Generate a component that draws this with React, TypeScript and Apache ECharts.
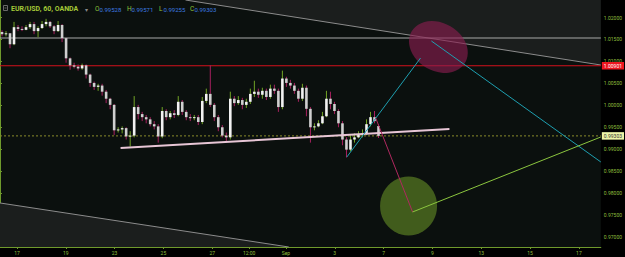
import React, { useEffect, useRef } from 'react';
import * as echarts from 'echarts';

// Hourly EUR/USD candles, [open, close, low, high]
const candles: number[][] = [
  [1.0167, 1.0162, 1.0157, 1.0171],
  [1.0162, 1.0164, 1.0157, 1.0169],
  [1.0164, 1.0139, 1.0130, 1.0164],
  [1.0139, 1.0178, 1.0137, 1.0190],
  [1.0178, 1.0174, 1.0169, 1.0183],
  [1.0174, 1.0172, 1.0169, 1.0180],
  [1.0172, 1.0178, 1.0171, 1.0183],
  [1.0178, 1.0185, 1.0174, 1.0190],
  [1.0185, 1.0169, 1.0162, 1.0190],
  [1.0169, 1.0176, 1.0155, 1.0180],
  [1.0176, 1.0185, 1.0174, 1.0192],
  [1.0185, 1.0190, 1.0180, 1.0197],
  [1.0190, 1.0180, 1.0176, 1.0192],
  [1.0180, 1.0169, 1.0162, 1.0183],
  [1.0169, 1.0183, 1.0167, 1.0192],
  [1.0183, 1.0153, 1.0144, 1.0185],
  [1.0153, 1.0107, 1.0097, 1.0153],
  [1.0107, 1.0091, 1.0081, 1.0109],
  [1.0091, 1.0088, 1.0084, 1.0097],
  [1.0088, 1.0084, 1.0079, 1.0093],
  [1.0084, 1.0091, 1.0081, 1.0095],
  [1.0091, 1.0070, 1.0061, 1.0093],
  [1.0070, 1.0051, 1.0042, 1.0072],
  [1.0051, 1.0042, 1.0035, 1.0054],
  [1.0042, 1.0045, 1.0033, 1.0049],
  [1.0045, 1.0031, 1.0022, 1.0049],
  [1.0031, 1.0015, 1.0005, 1.0035],
  [1.0015, 1.0001, 0.9991, 1.0017],
  [1.0001, 0.9943, 0.9932, 1.0003],
  [0.9943, 0.9945, 0.9938, 0.9950],
  [0.9945, 0.9948, 0.9936, 0.9952],
  [0.9948, 0.9929, 0.9922, 0.9950],
  [0.9929, 0.9931, 0.9906, 0.9941],
  [0.9931, 0.9996, 0.9927, 1.0021],
  [0.9996, 0.9980, 0.9968, 1.0001],
  [0.9980, 0.9973, 0.9964, 0.9985],
  [0.9973, 0.9968, 0.9959, 0.9978],
  [0.9968, 0.9957, 0.9952, 0.9973],
  [0.9957, 0.9952, 0.9945, 0.9964],
  [0.9952, 0.9929, 0.9915, 0.9957],
  [0.9929, 0.9987, 0.9925, 0.9996],
  [0.9987, 0.9973, 0.9966, 0.9991],
  [0.9973, 0.9982, 0.9968, 0.9987],
  [0.9982, 0.9978, 0.9971, 0.9989],
  [0.9978, 1.0008, 0.9975, 1.0021],
  [1.0008, 0.9985, 0.9978, 1.0012],
  [0.9985, 0.9973, 0.9966, 0.9989],
  [0.9973, 0.9971, 0.9964, 0.9980],
  [0.9971, 0.9973, 0.9966, 0.9978],
  [0.9973, 0.9962, 0.9955, 0.9978],
  [0.9962, 1.0010, 0.9957, 1.0019],
  [1.0010, 1.0026, 1.0005, 1.0038],
  [1.0026, 1.0001, 0.9996, 1.0091],
  [1.0001, 0.9973, 0.9964, 1.0005],
  [0.9973, 0.9950, 0.9941, 0.9978],
  [0.9950, 0.9931, 0.9927, 0.9955],
  [0.9931, 0.9927, 0.9918, 0.9938],
  [0.9927, 1.0015, 0.9922, 1.0031],
  [1.0015, 1.0005, 0.9998, 1.0021],
  [1.0005, 1.0012, 1.0001, 1.0021],
  [1.0012, 1.0001, 0.9991, 1.0017],
  [1.0001, 1.0008, 0.9994, 1.0015],
  [1.0008, 1.0026, 1.0003, 1.0038],
  [1.0026, 1.0031, 1.0019, 1.0056],
  [1.0031, 1.0024, 1.0017, 1.0038],
  [1.0024, 1.0033, 1.0015, 1.0040],
  [1.0033, 1.0019, 1.0012, 1.0038],
  [1.0019, 1.0038, 1.0015, 1.0047],
  [1.0038, 1.0033, 1.0026, 1.0047],
  [1.0033, 0.9996, 0.9985, 1.0038],
  [0.9996, 1.0061, 0.9991, 1.0079],
  [1.0061, 1.0051, 1.0042, 1.0065],
  [1.0051, 1.0045, 1.0038, 1.0058],
  [1.0045, 1.0033, 1.0026, 1.0051],
  [1.0033, 1.0015, 1.0008, 1.0038],
  [1.0015, 1.0040, 1.0010, 1.0049],
  [1.0040, 0.9992, 0.9975, 1.0045],
  [0.9992, 0.9950, 0.9915, 0.9996],
  [0.9950, 0.9952, 0.9943, 0.9959],
  [0.9952, 0.9959, 0.9950, 0.9966],
  [0.9959, 0.9975, 0.9957, 0.9985],
  [0.9975, 1.0015, 0.9973, 1.0033],
  [1.0015, 1.0003, 0.9991, 1.0031],
  [1.0003, 0.9987, 0.9980, 1.0008],
  [0.9987, 0.9959, 0.9950, 0.9991],
  [0.9959, 0.9922, 0.9909, 0.9964],
  [0.9922, 0.9899, 0.9881, 0.9927],
  [0.9899, 0.9922, 0.9895, 0.9932],
  [0.9922, 0.9927, 0.9915, 0.9936],
  [0.9927, 0.9934, 0.9925, 0.9941],
  [0.9934, 0.9936, 0.9927, 0.9945],
  [0.9936, 0.9957, 0.9932, 0.9968],
  [0.9957, 0.9973, 0.9952, 0.9985],
  [0.9973, 0.9964, 0.9959, 0.9987],
  [0.99528, 0.99303, 0.99255, 0.99571],
];

// time axis (in candle slots) and its labels
const xTickPos = [4.23, 16.42, 28.61, 40.8, 52.99, 62.19, 71.39, 83.58, 95.77, 107.96, 120.15, 132.34, 144.53];
const xTickLabels = ['17', '19', '23', '25', '27', '12:00', 'Sep', '3', '7', '9', '13', '15', '17'];
const xMax = 150;

// price axis
const yMin = 0.96772;
const yMax = 1.02399;
const yTicks = [0.97, 0.975, 0.98, 0.985, 0.99, 0.995, 1.0, 1.005, 1.01, 1.015, 1.02];

// drawings (in [slot, price])
const channelTop = [[46.3, 1.02399], [150, 1.00918]];
const channelBottom = [[0, 0.97775], [72.1, 0.96772]];
const supportLine = [[30.1, 0.99028], [112.2, 0.9946]];
const cyanUp = [[86.6, 0.98823], [105.0, 1.01078]];
const cyanDown = [[107.7, 1.01465], [150, 0.98709]];
const projDown = [[93.8, 0.99711], [103.0, 0.9757]];
const projUp = [[103.0, 0.9757], [150, 0.99278]];
const targetUp = [109.45, 1.01328];
const targetDown = [102.0, 0.97706];
const grayLevel = 1.01533;
const redLevel = 1.00901;

const FONT = 'Roboto, "DejaVu Sans", sans-serif';
const AXIS_GREEN = '#6f9a2c';
const LABEL_GREEN = '#8fbf3c';

export default function App() {
  const ref = useRef<HTMLDivElement>(null);
  useEffect(() => {
    const chart = echarts.init(ref.current!, null, { renderer: 'svg' });
    const last = candles[candles.length - 1];
    const lastClose = last[1];
    const data = candles.map((c, i) => [i + 0.5, c[0], c[1], c[2], c[3]]);

    const lineSeries = (d: number[][], color: string, width: number, z: number, extra: any = {}) => ({
      type: 'line',
      data: d,
      symbol: 'none',
      silent: true,
      z,
      lineStyle: { color, width },
      ...extra,
    });

    const priceTag = (v: number, bg: string, fg: string) => ({
      endLabel: {
        show: true,
        formatter: () => v.toFixed(5),
        backgroundColor: bg,
        color: fg,
        fontSize: 5,
        fontFamily: FONT,
        padding: [1.5, 2, 1, 2],
        distance: 1,
      },
    });

    const option: any = {
      animation: false,
      backgroundColor: '#000',
      grid: { left: 0, right: 22, top: 0, bottom: 10, show: true, backgroundColor: '#0b100e', borderWidth: 0 },
      xAxis: {
        type: 'value',
        min: 0,
        max: xMax,
        axisLine: { show: true, lineStyle: { color: AXIS_GREEN, width: 1 } },
        axisTick: { show: true, customValues: xTickPos, length: 2, lineStyle: { color: AXIS_GREEN } },
        axisLabel: {
          customValues: xTickPos,
          formatter: (v: number) => {
            const k = xTickPos.findIndex((p) => Math.abs(p - v) < 1e-6);
            return k >= 0 ? xTickLabels[k] : '';
          },
          color: LABEL_GREEN,
          fontSize: 5,
          margin: 3,
          fontFamily: FONT,
        },
        splitLine: { show: false },
      },
      yAxis: [
        {
          type: 'value',
          position: 'right',
          min: yMin,
          max: yMax,
          axisLine: { show: true, lineStyle: { color: AXIS_GREEN, width: 1 } },
          axisTick: { show: true, customValues: yTicks, length: 2, lineStyle: { color: AXIS_GREEN } },
          axisLabel: {
            customValues: yTicks,
            formatter: (v: number) => v.toFixed(5),
            color: LABEL_GREEN,
            fontSize: 5,
            margin: 3,
            fontFamily: FONT,
          },
          splitLine: { show: false },
        },
        {
          type: 'value',
          position: 'left',
          min: yMin,
          max: yMax,
          axisLine: { show: true, lineStyle: { color: AXIS_GREEN, width: 1 } },
          axisTick: { show: false },
          axisLabel: { show: false },
          splitLine: { show: false },
        },
      ],
      graphic: [
        { type: 'rect', shape: { x: 3.5, y: 5.5, width: 4, height: 5 }, style: { fill: 'none', stroke: '#6a6a6a', lineWidth: 1 } },
        { type: 'line', shape: { x1: 4.5, y1: 8, x2: 6.5, y2: 8 }, style: { stroke: '#6a6a6a', lineWidth: 1 } },
        { type: 'text', x: 11, y: 9, style: { text: 'EUR/USD, 60, OANDA', fill: '#a3c838', fontSize: 7, fontWeight: 'bold', fontFamily: FONT, verticalAlign: 'middle' } },
        { type: 'text', x: 85, y: 9, style: { text: '▾', fill: '#8a8a8a', fontSize: 6, fontFamily: FONT, verticalAlign: 'middle' } },
        ...['O', 'H', 'L', 'C'].flatMap((k, j) => {
          const vals = [last[0], last[3], last[2], last[1]];
          const xs = [95, 127, 159, 190];
          return [
            { type: 'text', x: xs[j], y: 9, style: { text: k, fill: '#8fc23a', fontSize: 6.5, fontFamily: FONT, verticalAlign: 'middle' } },
            { type: 'text', x: xs[j] + 4.5, y: 9, style: { text: vals[j].toFixed(5), fill: '#3d7be0', fontSize: 6, fontFamily: FONT, verticalAlign: 'middle' } },
          ];
        }),
      ],
      series: [
        lineSeries(channelTop, '#8c8c8c', 1, 1, { areaStyle: { origin: 'end', color: '#1b1e1d', opacity: 1 } }),
        lineSeries(channelBottom, '#8c8c8c', 1, 1, { areaStyle: { origin: 'start', color: '#1b1e1d', opacity: 1 } }),
        lineSeries([[0, grayLevel], [xMax, grayLevel]], '#a8a8a8', 1, 2),
        lineSeries([[0, redLevel], [xMax, redLevel]], '#d4101c', 1.2, 2, priceTag(redLevel, '#ee1620', '#ffffff')),
        lineSeries([[0, lastClose], [xMax, lastClose]], '#8a8c2c', 1, 2, {
          lineStyle: { color: '#8a8c2c', width: 1, type: [2, 2] },
          ...priceTag(lastClose, '#eef5a8', '#333333'),
        }),
        {
          type: 'custom',
          z: 3,
          silent: true,
          data,
          encode: { x: 0, y: [1, 2, 3, 4] },
          renderItem: (params: any, api: any) => {
            const x = api.value(0);
            const o = api.value(1);
            const c = api.value(2);
            const l = api.value(3);
            const h = api.value(4);
            const pO = api.coord([x, o]);
            const pC = api.coord([x, c]);
            const pL = api.coord([x, l]);
            const pH = api.coord([x, h]);
            const w = api.size([1, 0])[0] * 0.65;
            const up = c >= o;
            const top = Math.min(pO[1], pC[1]);
            const hh = Math.max(1, Math.abs(pO[1] - pC[1]));
            return {
              type: 'group',
              children: [
                { type: 'line', shape: { x1: pH[0], y1: pH[1], x2: pL[0], y2: pL[1] }, style: { stroke: up ? '#72a326' : '#a8215f', lineWidth: 1 } },
                { type: 'rect', shape: { x: pO[0] - w / 2, y: top, width: w, height: hh }, style: { fill: up ? '#f2f2f2' : '#cfcfcf' } },
              ],
            };
          },
        },
        {
          type: 'scatter',
          z: 4,
          silent: true,
          data: [
            { value: targetUp, symbolSize: [62, 48], symbolRotate: -30, itemStyle: { color: 'rgba(139,29,80,0.78)' } },
            { value: targetDown, symbolSize: [57, 59], itemStyle: { color: 'rgba(91,128,35,0.85)' } },
          ],
        },
        lineSeries(supportLine, '#e8c6d6', 2, 5),
        lineSeries(cyanUp, '#1e9fb0', 1, 6),
        lineSeries(cyanDown, '#1e9fb0', 1, 6),
        lineSeries(projDown, '#b0285f', 1, 6),
        lineSeries(projUp, '#8cc63f', 1, 6),
      ],
    };
    chart.setOption(option);
    return () => chart.dispose();
  }, []);
  return <div ref={ref} style={{ position: 'fixed', left: 0, top: 0, width: 625, height: 257, background: '#000' }} />;
}
